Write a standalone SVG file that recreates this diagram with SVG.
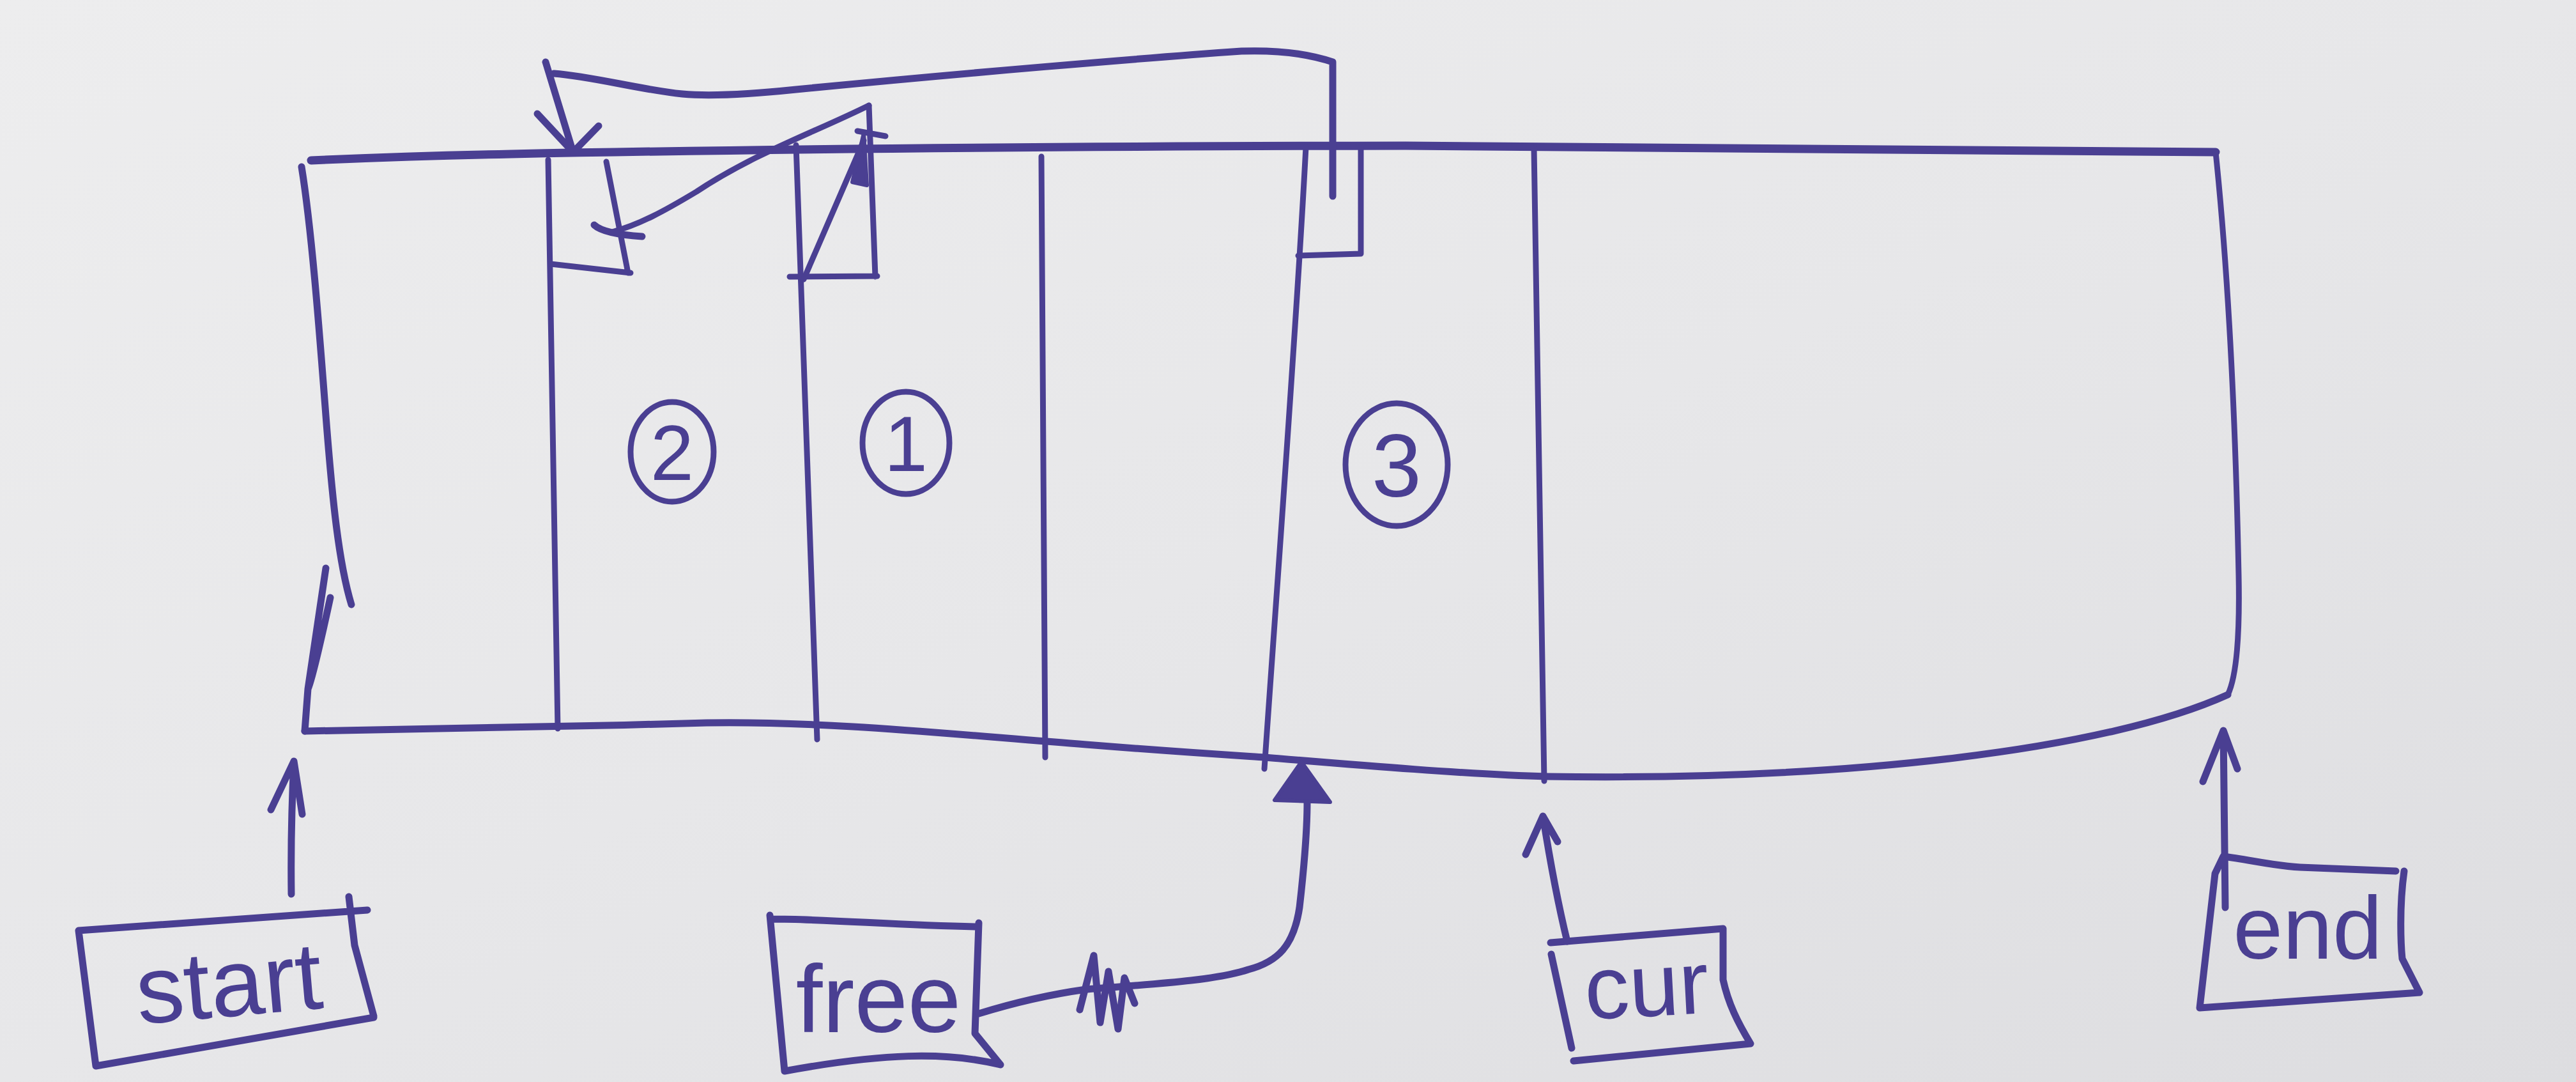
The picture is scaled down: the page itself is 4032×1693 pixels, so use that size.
<svg xmlns="http://www.w3.org/2000/svg" width="4032" height="1693" viewBox="0 0 4032 1693">
<defs>
<linearGradient id="bg" x1="0" y1="0" x2="1" y2="1">
<stop offset="0" stop-color="#ededee"/>
<stop offset="0.5" stop-color="#e7e7e9"/>
<stop offset="1" stop-color="#dddde0"/>
</linearGradient>
<style>
.ink{fill:none;stroke:#4a3f92;stroke-width:11;stroke-linecap:round;stroke-linejoin:round}
.thick{stroke-width:13}
.thin{stroke-width:9}
.fill{fill:#4a3f92;stroke:#4a3f92;stroke-width:6;stroke-linejoin:round}
.lbl{font-family:"Liberation Sans",Arial,sans-serif;fill:#4a3f92}
</style>
</defs>
<rect x="0" y="0" width="4032" height="1693" fill="url(#bg)"/>

<g id="memory">
<path class="ink thick" d="M487,251 C600,246 700,243 800,241 C1100,235 1500,229 2200,228 C2800,233 3200,238 3468,238"/>
<path class="ink" d="M472,261 C488,360 500,520 510,650 C520,780 530,880 550,946"/>
<path class="ink" d="M510,889 C500,960 490,1020 482,1078 C490,1060 505,990 517,935 M482,1078 L477,1144"/>
<path class="ink" d="M477,1144 C700,1140 900,1137 1106,1131 C1300,1128 1500,1150 1700,1165 C1850,1177 1950,1183 1979,1185 C2100,1195 2300,1212 2421,1215 C2900,1222 3300,1172 3487,1087"/>
<path class="ink thin" d="M3468,238 C3490,450 3500,700 3504,900 C3506,1000 3500,1060 3487,1087"/>
<path class="ink thin" d="M858,250 L873,1140"/>
<path class="ink thin" d="M1246,227 L1279,1157"/>
<path class="ink thin" d="M1630,245 L1636,1185"/>
<path class="ink thin" d="M2044,230 C2030,500 2000,900 1979,1203"/>
<path class="ink thin" d="M2401,232 L2417,1222"/>
</g>

<g id="block2">
<path class="ink thin" d="M949,253 L983,427 M862,413 L987,427"/>
<ellipse class="ink thin" cx="1052" cy="707" rx="65" ry="78"/>
<text class="lbl" x="1052" y="751" font-size="122" text-anchor="middle">2</text>
</g>

<g id="block1">
<path class="ink thin" d="M1360,165 L1370,433 M1236,433 L1373,432"/>
<ellipse class="ink thin" cx="1418" cy="693" rx="68" ry="80"/>
<text class="lbl" x="1418" y="737" font-size="122" text-anchor="middle">1</text>
</g>

<g id="block3">
<path class="ink thin" d="M2130,230 L2130,397 M2032,400 L2130,397"/>
<ellipse class="ink thin" cx="2186" cy="727" rx="80" ry="96"/>
<text class="lbl" x="2186" y="777" font-size="140" text-anchor="middle">3</text>
</g>

<g id="start">
<path class="ink" d="M123,1456 L575,1424 M546,1403 L555,1479 L585,1590 M585,1592 L150,1668 M150,1668 L123,1456"/>
<text class="lbl" x="360" y="1590" font-size="150" text-anchor="middle" transform="rotate(-5 360 1560)">start</text>
</g>

<g id="free">
<path class="ink" d="M1208,1438 C1300,1438 1400,1448 1527,1450 M1532,1444 L1526,1617 L1566,1666 M1566,1666 C1480,1645 1380,1648 1228,1676 M1228,1676 L1205,1432"/>
<text class="lbl" x="1375" y="1615" font-size="150" text-anchor="middle">free</text>
</g>

<g id="cur">
<path class="ink" d="M2427,1475 L2697,1453 L2697,1533 C2705,1570 2720,1600 2740,1633 L2463,1660 M2428,1493 L2460,1640"/>
<text class="lbl" x="2578" y="1590" font-size="140" text-anchor="middle" transform="rotate(-3 2578 1560)">cur</text>
</g>

<g id="end">
<path class="ink" d="M3480,1340 C3520,1345 3560,1355 3600,1357 L3750,1363 M3763,1363 C3755,1420 3758,1480 3760,1500 L3787,1553 L3443,1577 L3467,1367 L3480,1340"/>
<text class="lbl" x="3612" y="1500" font-size="140" text-anchor="middle">end</text>
</g>

<g id="connectors">
<path class="ink" d="M2086,307 L2086,97 C2050,85 2000,78 1943,80 C1800,90 1500,115 1246,140 C1150,150 1100,150 1068,147 C1000,140 930,120 867,115"/>
<path class="ink" d="M854,97 L897,238 M841,178 L897,238 L937,197"/>
<path class="ink thin" d="M1360,165 C1280,205 1180,240 1090,300 C1040,330 1000,352 958,363"/>
<path class="ink" d="M930,352 Q945,366 1005,370"/>
<path class="ink thin" d="M1258,437 L1352,220"/>
<polygon class="fill" points="1352,208 1334,285 1357,290"/>
<path class="ink thin" d="M1342,205 L1386,213"/>
<path class="ink" d="M1532,1586 C1600,1565 1650,1555 1700,1548 C1800,1540 1900,1535 1954,1517 C2000,1505 2025,1480 2034,1420 C2042,1350 2046,1300 2046,1255"/>
<polygon class="fill" points="2037,1192 1995,1252 2082,1255"/>
<path class="ink" d="M1690,1580 L1712,1495 L1722,1600 L1735,1520 L1750,1610 L1760,1530 L1776,1570"/>
<path class="ink" d="M456,1399 C455,1320 457,1250 460,1191 M424,1267 L460,1191 L473,1274"/>
<path class="ink" d="M2453,1473 C2440,1420 2425,1340 2415,1277 M2388,1337 L2415,1277 L2438,1317"/>
<path class="ink" d="M3483,1420 L3480,1143 M3448,1223 L3480,1143 L3502,1203"/>
</g>
</svg>
